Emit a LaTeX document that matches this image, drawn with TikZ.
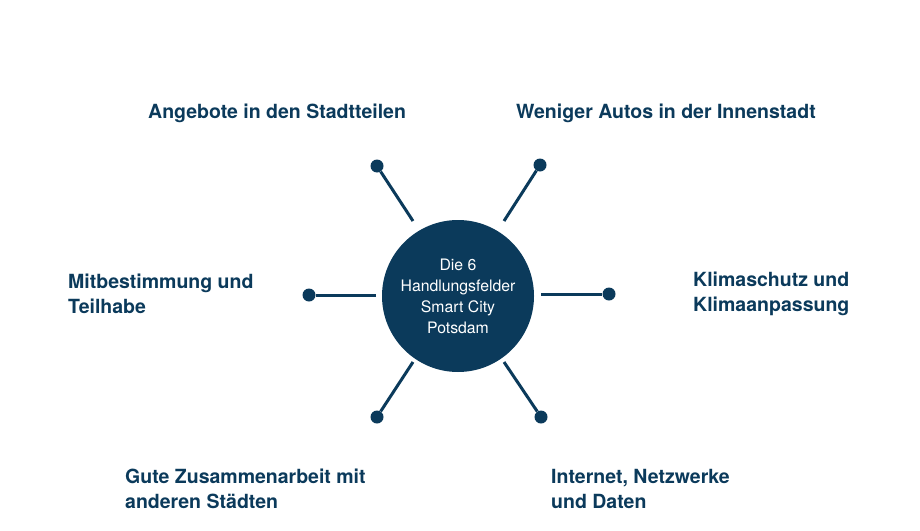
\documentclass[tikz,border=0pt]{standalone}
\usepackage{fontspec}
\setmainfont{TeX Gyre Heros}
\definecolor{navy}{HTML}{0B3A5B}
\begin{document}
\begin{tikzpicture}[x=1pt,y=-1pt,
  spoke/.style={draw=navy,line width=3pt},
  dot/.style={circle,fill=navy,inner sep=0pt,minimum size=13pt},
  lbl/.style={text=navy,font=\fontsize{19.5}{25}\selectfont\bfseries,align=left,inner sep=0pt}]
\useasboundingbox (0,0) rectangle (920,530);
\node[circle,fill=navy,minimum size=152pt,inner sep=0pt,text=white,align=center,font=\fontsize{15.8}{21}\selectfont] (c) at (458,296) {Die 6\\Handlungsfelder\\Smart City\\Potsdam};
\node[dot] (d1) at (377,166) {};
\node[dot] (d2) at (540,165) {};
\node[dot] (d3) at (309,295) {};
\node[dot] (d4) at (609,294) {};
\node[dot] (d5) at (377,417) {};
\node[dot] (d6) at (541,417) {};
\coordinate (s1) at (413,221); \coordinate (s2) at (504,221);
\coordinate (s3) at (376,295); \coordinate (s4) at (541,294);
\coordinate (s5) at (413,362); \coordinate (s6) at (504,362);
\foreach \i in {1,...,6} \draw[spoke] (s\i) -- (d\i);
\node[lbl,anchor=west] (t1) at (148,113) {Angebote in den Stadtteilen};
\node[lbl,anchor=west] (t2) at (516,113) {Weniger Autos in der Innenstadt};
\node[lbl,anchor=west] (t3) at (68,294) {Mitbestimmung und\\Teilhabe};
\node[lbl,anchor=west] (t4) at (693,294) {Klimaschutz und\\Klimaanpassung};
\node[lbl,anchor=west] (t5) at (125,489) {Gute Zusammenarbeit mit\\anderen Städten};
\node[lbl,anchor=west] (t6) at (551,489) {Internet, Netzwerke\\und Daten};
\end{tikzpicture}
\end{document}
